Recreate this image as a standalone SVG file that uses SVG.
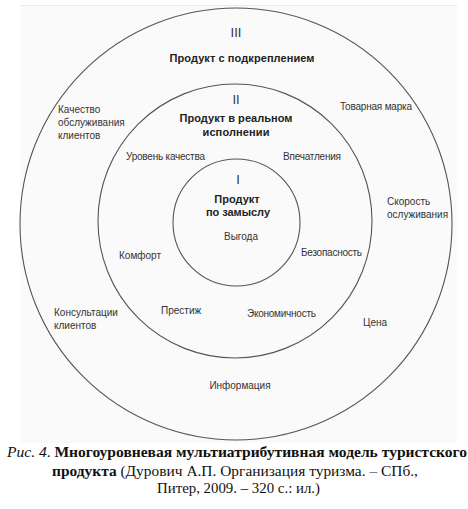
<svg xmlns="http://www.w3.org/2000/svg" width="468" height="509" viewBox="0 0 468 509">
<style>
.ring{fill:none;stroke:#555;stroke-width:1.1}
.lbl{font-family:"Liberation Sans",Arial,sans-serif;font-size:10px;fill:#333}
.ttl{font-family:"Liberation Sans",Arial,sans-serif;font-size:11px;font-weight:bold;fill:#222}
.num{font-family:"Liberation Sans",Arial,sans-serif;font-size:13px;fill:#333}
.cap{font-family:"Liberation Serif","Times New Roman",serif;font-size:15px;fill:#111}
</style>
<rect x="20" y="5" width="437" height="438" fill="#fafafa"/>
<line x1="20" y1="5.5" x2="457" y2="5.5" stroke="#ebebeb" stroke-width="1"/>
<g id="level3">
<circle class="ring" cx="236" cy="224" r="216"/>
<text class="num" x="236" y="37" text-anchor="middle">III</text>
<text class="ttl" x="242" y="62" text-anchor="middle" textLength="145">Продукт с подкреплением</text>
<text class="lbl" x="58" y="113">Качество</text>
<text class="lbl" x="58" y="126">обслуживания</text>
<text class="lbl" x="58" y="139">клиентов</text>
<text class="lbl" x="340" y="110" textLength="72">Товарная марка</text>
<text class="lbl" x="387" y="205">Скорость</text>
<text class="lbl" x="387" y="218">ослуживания</text>
<text class="lbl" x="54" y="316">Консультации</text>
<text class="lbl" x="54" y="329">клиентов</text>
<text class="lbl" x="363" y="326">Цена</text>
<text class="lbl" x="240" y="389" text-anchor="middle">Информация</text>
</g>
<g id="level2">
<circle class="ring" cx="235" cy="221" r="137"/>
<text class="num" x="236" y="104" text-anchor="middle">II</text>
<text class="ttl" x="236" y="122" text-anchor="middle" textLength="113">Продукт в реальном</text>
<text class="ttl" x="236" y="136" text-anchor="middle" textLength="67">исполнении</text>
<text class="lbl" x="126" y="160" textLength="79">Уровень качества</text>
<text class="lbl" x="283" y="160" textLength="58">Впечатления</text>
<text class="lbl" x="119" y="259">Комфорт</text>
<text class="lbl" x="301" y="256" textLength="61">Безопасность</text>
<text class="lbl" x="161" y="314">Престиж</text>
<text class="lbl" x="247" y="317" textLength="69">Экономичность</text>
</g>
<g id="level1">
<circle class="ring" cx="236.5" cy="222.5" r="63.5"/>
<text class="num" x="238" y="184" text-anchor="middle">I</text>
<text class="ttl" x="237" y="203" text-anchor="middle">Продукт</text>
<text class="ttl" x="238" y="216" text-anchor="middle" textLength="64">по замыслу</text>
<text class="lbl" x="241" y="240" text-anchor="middle">Выгода</text>
</g>
<g id="connectors"/>
<g id="caption">
<text class="cap" x="7" y="457" textLength="460" lengthAdjust="spacingAndGlyphs"><tspan font-style="italic">Рис. 4</tspan>. <tspan font-weight="bold">Многоуровневая мультиатрибутивная модель туристского</tspan></text>
<text class="cap" x="52" y="476" textLength="366" lengthAdjust="spacingAndGlyphs"><tspan font-weight="bold">продукта</tspan> (Дурович А.П. Организация туризма. – СПб.,</text>
<text class="cap" x="157" y="493" textLength="163" lengthAdjust="spacingAndGlyphs">Питер, 2009. – 320 с.: ил.)</text>
</g>
</svg>
